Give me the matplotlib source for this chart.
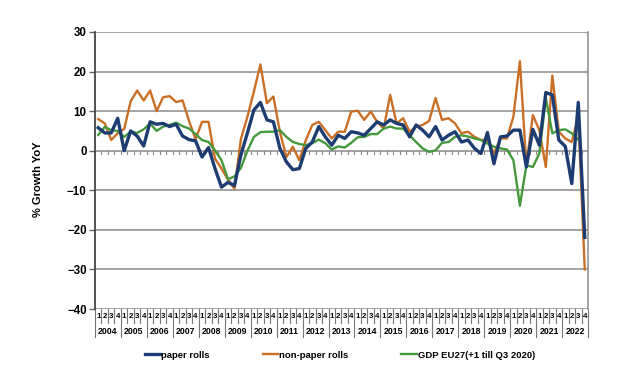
import numpy as np
import matplotlib
matplotlib.use("Agg")
import matplotlib.pyplot as plt

plt.rcParams['font.family'] = ['Liberation Sans', 'DejaVu Sans']

years = [str(y) for y in range(2004, 2023)]
quarters = ['1', '2', '3', '4']

paper_rolls = [
    5.8, 4.5, 4.5, 8.2,
    0.0, 5.0, 3.7, 1.2,
    7.3, 6.7, 6.9, 6.1,
    6.7, 3.7, 2.8, 2.5,
    -1.6, 0.8, -4.5, -9.2,
    -8.0, -8.8, -1.0, 4.5,
    10.3, 12.2, 7.8, 7.3,
    0.6, -2.8, -4.8, -4.5,
    0.6, 2.2, 6.1, 3.5,
    1.4, 3.9, 3.1, 4.8,
    4.5, 3.9, 5.6, 7.3,
    6.5, 7.8, 6.9, 6.5,
    3.5, 6.5, 5.2, 3.5,
    6.1, 2.7, 3.9, 4.8,
    2.2, 2.7, 0.6, -0.7,
    4.6, -3.3, 3.5, 3.7,
    5.2, 5.2, -4.1, 5.4,
    1.4, 14.7, 14.1, 2.7,
    1.1, -8.3, 12.2, -21.9,
]

non_paper_rolls = [
    8.0, 6.9, 2.7, 4.4,
    5.5, 12.5, 15.2, 12.7,
    15.2, 10.0, 13.5, 13.8,
    12.3, 12.7, 7.5, 2.9,
    7.3, 7.3, -2.0, -4.5,
    -7.3, -9.6, 3.0, 8.6,
    15.0, 21.8, 12.0, 13.7,
    4.8, -1.6, 1.0, -2.4,
    2.7, 6.5, 7.3, 5.2,
    3.1, 4.8, 4.8, 9.9,
    10.1, 7.8, 9.9, 7.3,
    5.6, 14.1, 6.9, 8.2,
    4.8, 6.1, 6.5, 7.5,
    13.3, 7.8, 8.2, 6.9,
    4.4, 4.8, 3.5, 2.7,
    2.7, -0.7, 3.1, 3.1,
    8.6, 22.6, -3.7, 9.0,
    5.2, -4.1, 19.0, 4.8,
    3.1, 2.2, 8.6, -30.0,
]

gdp_eu27 = [
    4.0, 6.0, 5.2, 5.0,
    3.5, 4.8, 4.5, 5.4,
    6.9, 5.0, 6.1, 6.5,
    7.1, 6.2, 5.6, 4.2,
    2.7, 2.2, 0.1, -2.4,
    -7.2, -6.5, -4.3, 0.0,
    3.5, 4.7, 4.8, 4.8,
    5.2, 3.5, 2.2, 1.7,
    1.4, 1.9, 2.8, 1.9,
    0.3, 1.1, 0.8, 2.0,
    3.4, 3.5, 4.2, 4.2,
    5.6, 6.1, 5.6, 5.6,
    3.9, 2.2, 0.6, -0.3,
    0.1, 2.0, 2.2, 3.5,
    3.9, 3.6, 3.1, 2.7,
    1.8, 1.0, 0.6, 0.3,
    -2.4, -13.9, -3.7, -4.1,
    -0.7, 13.3, 4.4, 5.2,
    5.4, 4.4, 2.8, np.nan,
]

labels = ['paper rolls', 'non-paper rolls', 'GDP EU27(+1 till Q3 2020)']
colors = ['#1d3c72', '#c96f26', '#45993c']

n = len(years) * len(quarters)
x = np.arange(n)

fig = plt.figure(figsize=(6.19, 3.88), dpi=100)
ax = fig.add_axes([95/619, 1-309/388, (588-95)/619, (309-32)/388])

ax.set_xlim(-0.5, n - 0.5)
ax.set_ylim(-40, 30)
ax.set_yticks(np.arange(-40, 31, 10))
for v in np.arange(-40, 31, 10):
    ax.axhline(v, color='#8a8a8a', lw=1.1, zorder=1)

# small category ticks on the zero line
for b in np.arange(-0.5, n, 1):
    ax.plot([b, b], [0, -0.8], color='#8a8a8a', lw=0.8, zorder=1)

lp, = ax.plot(x, paper_rolls, color=colors[0], lw=2.4, zorder=4, label=labels[0])
ln, = ax.plot(x, non_paper_rolls, color=colors[1], lw=1.7, zorder=3, label=labels[1])
lg, = ax.plot(x, gdp_eu27, color=colors[2], lw=1.7, zorder=3, label=labels[2])

for s in ['top', 'bottom']:
    ax.spines[s].set_visible(False)
ax.spines['right'].set_color('#8a8a8a')
ax.spines['right'].set_linewidth(1.1)
ax.spines['left'].set_color('#444444')
ax.spines['left'].set_linewidth(1.3)

ax.set_xticks([])
ax.tick_params(axis='y', length=4, width=1, color='#666666', labelsize=8.3, pad=2)
for t in ax.get_yticklabels():
    t.set_fontweight('bold')
ax.set_ylabel('% Growth YoY', fontsize=8, fontweight='bold', labelpad=11)
ax.yaxis.set_label_coords(-0.105, 0.47)

# category table below the plot
trans = ax.get_xaxis_transform()
for i in range(n):
    ax.text(x[i], -0.027, quarters[i % 4], transform=trans, ha='center', va='center',
            fontsize=5.8, fontweight='bold', clip_on=False)
for b in np.arange(-0.5, n, 1):
    is_year = abs(((b + 0.5) % 4)) < 1e-9
    y_end = -0.1 if is_year else -0.05
    ax.plot([b, b], [0, y_end], transform=trans, color='#777777', lw=0.8, clip_on=False)
for j, yr in enumerate(years):
    ax.text(4*j + 1.5, -0.083, yr, transform=trans, ha='center', va='center',
            fontsize=6.3, fontweight='bold', clip_on=False)

fig.legend(handles=[lp, ln, lg], labels=labels, loc='center',
           bbox_to_anchor=(340/619, 1-355/388), ncol=3, frameon=False,
           prop={'size': 6.8, 'weight': 'bold'}, handlelength=1.6,
           handletextpad=0.15, columnspacing=5.6)

fig.savefig('out.png', dpi=100)
